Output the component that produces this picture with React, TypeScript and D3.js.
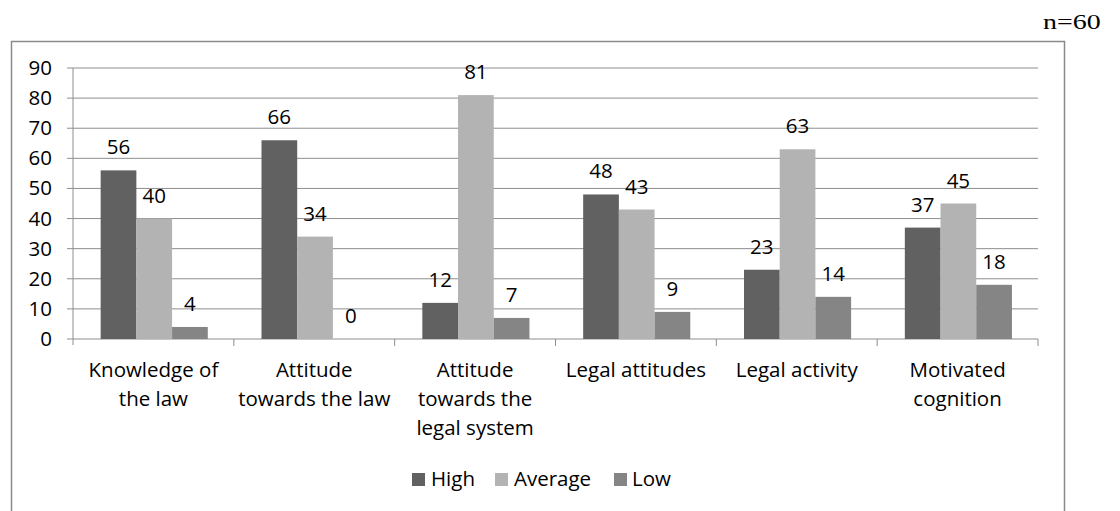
import React from "react";
import * as d3 from "d3";

const categories = [
  ["Knowledge of", "the law"],
  ["Attitude", "towards the law"],
  ["Attitude", "towards the", "legal system"],
  ["Legal attitudes"],
  ["Legal activity"],
  ["Motivated", "cognition"],
];
const seriesNames = ["High", "Average", "Low"];
const high = [56, 66, 12, 48, 23, 37];
const average = [40, 34, 81, 43, 63, 45];
const low = [4, 0, 7, 9, 14, 18];
const yTicks = [0, 10, 20, 30, 40, 50, 60, 70, 80, 90];
const colors = ["#616161", "#b3b3b3", "#858585"];
const note = "n=60";

const W = 1120;
const H = 511;
const plot = { left: 73, right: 1038, top: 68, bottom: 339 };
const font = "'Open Sans', sans-serif";
const grid = "#8e8e8e";
const fs = 20.5;

export default function App() {
  const series = [high, average, low];
  const keys = categories.map((c) => c.join(" "));
  const x0 = d3.scaleBand<string>().domain(keys).range([plot.left, plot.right]).padding(0);
  const bw = x0.bandwidth();
  const x1 = d3
    .scaleBand<string>()
    .domain(seriesNames)
    .range([bw * 0.172, bw * 0.838])
    .padding(0);
  const y = d3.scaleLinear().domain([0, 90]).range([plot.bottom, plot.top]);

  const legendItems = [
    { name: "High", sx: 412, tx: 431 },
    { name: "Average", sx: 495, tx: 514 },
    { name: "Low", sx: 614, tx: 632 },
  ];

  return (
    <svg
      width={W}
      height={H}
      style={{ position: "absolute", left: 0, top: 0, background: "#fff" }}
      fontFamily={font}
    >
      <rect x={0} y={0} width={W} height={H} fill="#fff" />
      <text
        transform="translate(1043,29) scale(1.3,1)"
        fontFamily="'Liberation Serif', 'Times New Roman', serif"
        fontSize={21.5}
        fill="#000"
      >
        {note}
      </text>
      <rect x={11.5} y={41.5} width={1053} height={500} fill="none" stroke="#8a8a8a" strokeWidth={1.5} />

      {/* gridlines */}
      {yTicks.map((t) => (
        <g key={t}>
          <line x1={plot.left - 6} x2={plot.right} y1={y(t)} y2={y(t)} stroke={grid} strokeWidth={1} />
          <text x={52} y={y(t) + 7} textAnchor="end" fontSize={fs} fill="#000">
            {t}
          </text>
        </g>
      ))}
      <line x1={plot.left} x2={plot.left} y1={plot.top} y2={plot.bottom + 6} stroke={grid} strokeWidth={1} />
      {keys.map((k) => (
        <line
          key={k}
          x1={(x0(k) as number) + bw}
          x2={(x0(k) as number) + bw}
          y1={plot.bottom}
          y2={plot.bottom + 7}
          stroke={grid}
          strokeWidth={1}
        />
      ))}

      {/* bars */}
      {keys.map((k, i) => (
        <g key={k} transform={`translate(${x0(k)},0)`}>
          {seriesNames.map((s, j) => {
            const v = series[j][i];
            const bx = x1(s) as number;
            return (
              <g key={s}>
                <rect x={bx} y={y(v)} width={x1.bandwidth()} height={y(0) - y(v)} fill={colors[j]} />
                <text
                  x={bx + x1.bandwidth() / 2}
                  y={y(v) - 16}
                  textAnchor="middle"
                  fontSize={fs}
                  fill="#000"
                >
                  {v}
                </text>
              </g>
            );
          })}
        </g>
      ))}

      {/* category labels */}
      {categories.map((lines, i) => (
        <text key={i} textAnchor="middle" fontSize={fs} fill="#000">
          {lines.map((l, li) => (
            <tspan key={li} x={(x0(keys[i]) as number) + bw / 2} y={377 + li * 29}>
              {l}
            </tspan>
          ))}
        </text>
      ))}

      {/* legend */}
      {legendItems.map((it, j) => (
        <g key={it.name}>
          <rect x={it.sx} y={473} width={13} height={13} fill={colors[j]} />
          <text x={it.tx} y={486} fontSize={fs} fill="#000">
            {it.name}
          </text>
        </g>
      ))}
    </svg>
  );
}
